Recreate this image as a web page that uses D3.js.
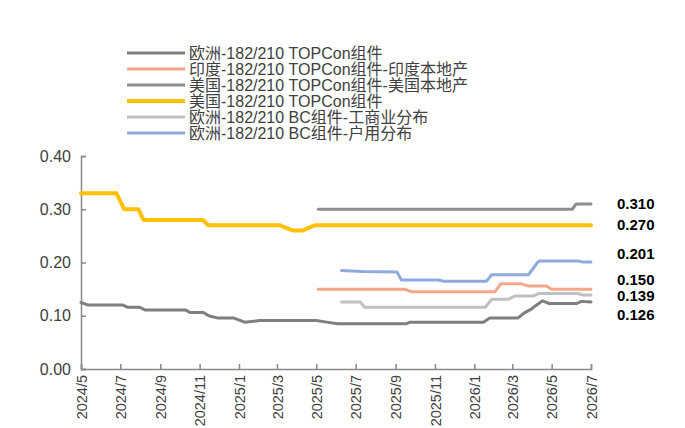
<!DOCTYPE html>
<html>
<head>
<meta charset="utf-8">
<script src="https://cdn.jsdelivr.net/npm/d3@7"></script>
<style>
  body { margin: 0; background: #fff; }
  text { font-family: "Liberation Sans", Arial, "Noto Sans CJK SC", sans-serif; }
</style>
</head>
<body>
<div id="chart"></div>
<script>
/* module prices by market, line chart */

const seriesNames = [
    "欧洲-182/210 TOPCon组件",
    "印度-182/210 TOPCon组件-印度本地产",
    "美国-182/210 TOPCon组件-美国本地产",
    "美国-182/210 TOPCon组件",
    "欧洲-182/210 BC组件-工商业分布",
    "欧洲-182/210 BC组件-户用分布"
];

// key points [date, price]
const euTopcon = [
    ["2024-05-01", 0.125], ["2024-05-12", 0.120], ["2024-07-05", 0.120], ["2024-07-12", 0.116],
    ["2024-07-31", 0.116], ["2024-08-08", 0.111], ["2024-10-10", 0.111], ["2024-10-17", 0.106],
    ["2024-11-07", 0.106], ["2024-11-15", 0.100], ["2024-11-28", 0.096], ["2024-12-23", 0.096],
    ["2025-01-10", 0.088], ["2025-02-02", 0.091], ["2025-05-01", 0.091], ["2025-05-17", 0.088],
    ["2025-06-03", 0.085], ["2025-09-18", 0.085], ["2025-09-23", 0.088], ["2026-01-15", 0.088],
    ["2026-01-25", 0.096], ["2026-03-10", 0.096], ["2026-03-19", 0.105], ["2026-03-31", 0.113],
    ["2026-04-05", 0.118], ["2026-04-17", 0.128], ["2026-04-27", 0.123], ["2026-06-09", 0.123],
    ["2026-06-16", 0.127], ["2026-07-01", 0.126]
];
const inLocal = [
    ["2025-05-04", 0.150], ["2025-09-15", 0.150], ["2025-09-26", 0.145], ["2026-02-02", 0.145],
    ["2026-02-11", 0.160], ["2026-03-15", 0.160], ["2026-03-25", 0.156], ["2026-04-23", 0.156],
    ["2026-04-30", 0.150], ["2026-07-01", 0.150]
];
const usLocal = [
    ["2025-05-04", 0.300], ["2026-06-02", 0.300], ["2026-06-08", 0.310], ["2026-07-01", 0.310]
];
const usTopcon = [
    ["2024-05-01", 0.330], ["2024-06-25", 0.330], ["2024-07-07", 0.300], ["2024-07-29", 0.300],
    ["2024-08-06", 0.280], ["2024-11-06", 0.280], ["2024-11-14", 0.270], ["2025-03-06", 0.270],
    ["2025-03-15", 0.265], ["2025-03-26", 0.260], ["2025-04-10", 0.260], ["2025-04-19", 0.265],
    ["2025-04-29", 0.270], ["2026-07-01", 0.270]
];
const euBcCi = [
    ["2025-06-09", 0.126], ["2025-07-08", 0.126], ["2025-07-15", 0.116], ["2026-01-18", 0.116],
    ["2026-01-28", 0.131], ["2026-02-23", 0.131], ["2026-03-05", 0.137], ["2026-04-02", 0.137],
    ["2026-04-12", 0.142], ["2026-06-10", 0.142], ["2026-06-18", 0.139], ["2026-07-01", 0.139]
];
const euBcHome = [
    ["2025-06-09", 0.185], ["2025-07-10", 0.183], ["2025-09-03", 0.182], ["2025-09-10", 0.167],
    ["2025-11-06", 0.167], ["2025-11-14", 0.165], ["2026-01-20", 0.165], ["2026-01-28", 0.177],
    ["2026-03-26", 0.177], ["2026-04-09", 0.200], ["2026-04-12", 0.203], ["2026-06-10", 0.203],
    ["2026-06-18", 0.201], ["2026-07-01", 0.201]
];

const yTicks = [0, 0.1, 0.2, 0.3, 0.4];
const endLabels = ["0.310", "0.270", "0.201", "0.150", "0.139", "0.126"];
const endValues = [0.310, 0.270, 0.201, 0.150, 0.139, 0.126];
const endNudge = [0, 0, -8, -9, 1, 13];   // labels pushed apart like in the source

const colors = ["#7f7f7f", "#f4a58a", "#8e8e8e", "#ffc000", "#c0c0c0", "#8faadc"];
const widths = [3, 3, 3, 4, 3, 3];

const width = 685,
      height = 428,
      margin = ({top: 156, right: 94, bottom: 59, left: 81});

const parse = d3.timeParse("%Y-%m-%d");
const allSeries = [euTopcon, inLocal, usLocal, usTopcon, euBcCi, euBcHome]
    .map(s => s.map(d => ({date: parse(d[0]), value: d[1]})));

let svg = d3.select("#chart")
    .append("svg")
    .attr("width", width)
    .attr("height", height);

let x = d3.scaleTime()
    .domain([parse("2024-05-01"), parse("2026-07-01")])
    .range([margin.left, width - margin.right]);

let y = d3.scaleLinear()
    .domain([0, 0.4])
    .range([height - margin.bottom, margin.top]);

const monthTicks = d3.timeMonth.every(2).range(parse("2024-05-01"), d3.timeDay.offset(parse("2026-07-01"), 1));

// x axis
const xAxis = g => g
    .attr("transform", `translate(0,${height - margin.bottom})`)
    .call(d3.axisBottom(x).tickValues(monthTicks).tickSize(-5).tickFormat(d3.timeFormat("%Y/%-m")))
    .call(g => g.selectAll("path, line").attr("stroke", "#898989").attr("stroke-width", 1.5))
    .call(g => g.selectAll("text")
        .attr("transform", "rotate(-90)")
        .attr("text-anchor", "end")
        .attr("x", -6)
        .attr("y", 0)
        .attr("dy", "0.35em")
        .attr("font-size", 14.5)
        .attr("fill", "#404040"));

// y axis
const yAxis = g => g
    .attr("transform", `translate(${margin.left},0)`)
    .call(d3.axisLeft(y).tickValues(yTicks).tickSize(-5).tickPadding(10).tickFormat(d3.format(".2f")))
    .call(g => g.selectAll("path, line").attr("stroke", "#898989").attr("stroke-width", 1.5))
    .call(g => g.selectAll("text").attr("font-size", 16).attr("fill", "#404040"));

svg.append("g").call(xAxis);
svg.append("g").call(yAxis);

const line = d3.line()
    .x(d => x(d.date))
    .y(d => y(d.value));

svg.append("g")
    .selectAll("path")
    .data(allSeries)
    .join("path")
    .attr("fill", "none")
    .attr("stroke", (d, i) => colors[i])
    .attr("stroke-width", (d, i) => widths[i])
    .attr("stroke-linejoin", "round")
    .attr("stroke-linecap", "round")
    .attr("d", line);

// end value labels
svg.append("g")
    .selectAll("text")
    .data(endLabels)
    .join("text")
    .attr("x", 617)
    .attr("y", (d, i) => y(endValues[i]) + endNudge[i])
    .attr("dy", "0.35em")
    .attr("font-size", 15)
    .attr("font-weight", "bold")
    .attr("fill", "#000")
    .text(d => d);

// legend
let legend = svg.append("g")
    .selectAll("g")
    .data(seriesNames)
    .join("g")
    .attr("transform", (d, i) => `translate(127,${53 + i * 16})`);

legend.append("line")
    .attr("x1", 0)
    .attr("x2", 58)
    .attr("stroke", (d, i) => colors[i])
    .attr("stroke-width", (d, i) => widths[i]);

legend.append("text")
    .attr("x", 62)
    .attr("dy", "0.35em")
    .attr("font-size", 16)
    .attr("fill", "#404040")
    .text(d => d);
</script>
</body>
</html>
